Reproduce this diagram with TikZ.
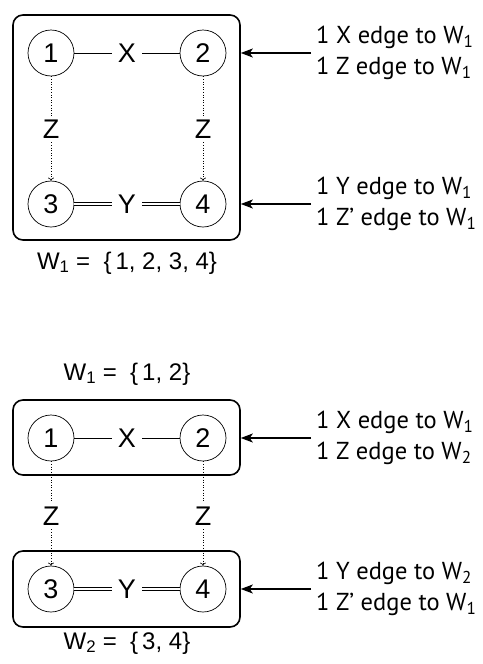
\documentclass[tikz,border=0pt]{standalone}
\usepackage{fontspec}
\setmainfont{Liberation Sans}
\newfontfamily\rtfont{PT Sans}
\usetikzlibrary{arrows.meta}
\begin{document}
\begin{tikzpicture}[x=1pt,y=-1pt,
  vert/.style={circle,draw,line width=0.7pt,minimum size=46pt,inner sep=0pt,font=\fontsize{27}{27}\selectfont},
  elab/.style={inner sep=6pt,font=\fontsize{27}{27}\selectfont},
  zlab/.style={inner sep=4pt,font=\fontsize{27}{27}\selectfont},
  grp/.style={draw,line width=1.6pt,rounded corners=10pt,inner sep=0pt},
  wlab/.style={inner sep=0pt,font=\fontsize{24}{24}\selectfont},
  note/.style={align=left,anchor=west,inner sep=5pt,font=\rtfont\fontsize{24.5}{31}\selectfont},
  xedge/.style={line width=0.6pt},
  yedge/.style={double,double distance=2.2pt,line width=0.6pt},
  zedge/.style={dotted,line width=0.6pt},
  zarr/.style={dotted,line width=0.6pt,-{To[length=3pt,width=6pt]}},
  ptr/.style={line width=1.2pt,-{Stealth[length=12pt,width=9pt,inset=3pt]}}
]
\useasboundingbox (0,0) rectangle (482,664);

% ---------- top diagram ----------
\node[grp,minimum width=227pt,minimum height=225pt] (boxA) at (126.5,127.5) {};
\node[vert] (a1) at (51,53) {1};
\node[vert] (a2) at (203,53) {2};
\node[vert] (a3) at (51,204) {3};
\node[vert] (a4) at (203,204) {4};
\node[elab] (ax) at (127,53) {X};
\node[elab] (ay) at (127,204) {Y};
\node[zlab] (az1) at (51,129) {Z};
\node[zlab] (az2) at (203,129) {Z};
\draw[xedge] (a1) -- (ax);
\draw[xedge] (ax) -- (a2);
\draw[yedge] (a3) -- (ay);
\draw[yedge] (ay) -- (a4);
\draw[zedge] (a1) -- (az1);
\draw[zarr] (az1) -- (a3);
\draw[zedge] (a2) -- (az2);
\draw[zarr] (az2) -- (a4);
\node[wlab] (wA) at (127,263) {W\textsubscript{1} =~ \{\,1, 2, 3, 4\}};

\node[note] (nA1) at (311,53) {1 X edge to W\textsubscript{1}\\1 Z edge to W\textsubscript{1}};
\node[note] (nA2) at (311,204) {1 Y edge to W\textsubscript{1}\\1 Z’ edge to W\textsubscript{1}};
\draw[ptr] (nA1.west) -- (boxA.east |- nA1.west);
\draw[ptr] (nA2.west) -- (boxA.east |- nA2.west);

% ---------- bottom diagram ----------
\node[wlab] (wB1) at (127,374) {W\textsubscript{1} =~ \{\,1, 2\}};
\node[grp,minimum width=227pt,minimum height=75pt] (boxB) at (126.5,437.5) {};
\node[grp,minimum width=227pt,minimum height=76pt] (boxC) at (126.5,589) {};
\node[vert] (b1) at (51,438) {1};
\node[vert] (b2) at (203,438) {2};
\node[vert] (b3) at (51,589) {3};
\node[vert] (b4) at (203,589) {4};
\node[elab] (bx) at (127,438) {X};
\node[elab] (by) at (127,589) {Y};
\node[zlab] (bz1) at (51,516) {Z};
\node[zlab] (bz2) at (203,516) {Z};
\draw[xedge] (b1) -- (bx);
\draw[xedge] (bx) -- (b2);
\draw[yedge] (b3) -- (by);
\draw[yedge] (by) -- (b4);
\draw[zedge] (b1) -- (bz1);
\draw[zarr] (bz1) -- (b3);
\draw[zedge] (b2) -- (bz2);
\draw[zarr] (bz2) -- (b4);
\node[wlab] (wB2) at (127,643) {W\textsubscript{2} =~ \{\,3, 4\}};

\node[note] (nB1) at (311,438) {1 X edge to W\textsubscript{1}\\1 Z edge to W\textsubscript{2}};
\node[note] (nB2) at (311,589) {1 Y edge to W\textsubscript{2}\\1 Z’ edge to W\textsubscript{1}};
\draw[ptr] (nB1.west) -- (boxB.east |- nB1.west);
\draw[ptr] (nB2.west) -- (boxC.east |- nB2.west);
\end{tikzpicture}
\end{document}
